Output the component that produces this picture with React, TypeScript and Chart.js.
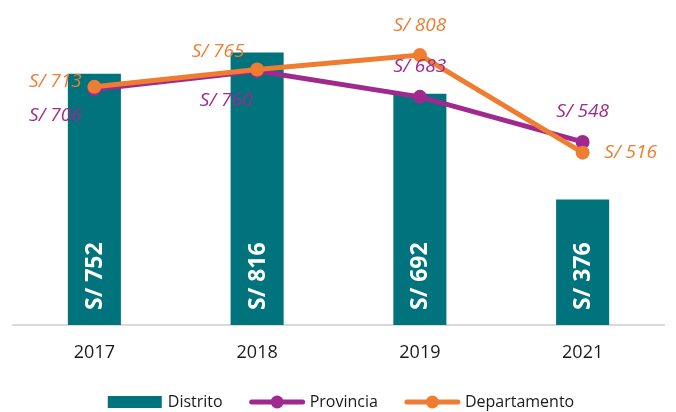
import React, { useEffect, useRef } from "react";
import { Chart, registerables } from "chart.js";

Chart.register(...registerables);

const categories = ["2017", "2018", "2019", "2021"];
const distrito = [752, 816, 692, 376];
const provincia = [706, 760, 683, 548];
const departamento = [713, 765, 808, 516];

const TEAL = "#00737D";
const PURPLE = "#A0298F";
const ORANGE = "#EE7D31";
const FONT = "'Open Sans', 'DejaVu Sans', sans-serif";
const BOLD_FONT = "'Noto Sans', 'DejaVu Sans', sans-serif";

// label offsets (style only) relative to each point
const provOffsets = [
  [-39, 26],
  [-31, 29],
  [0, -30],
  [0, -30],
];
const depOffsets = [
  [-39, -5],
  [-39, -18],
  [0, -30],
  [48, 0],
];

const fmt = (v: number) => `S/ ${v}`;

const labelPlugin = {
  id: "customLabels",
  afterDatasetsDraw(chart: any) {
    const ctx = chart.ctx;
    ctx.save();
    // bar labels
    const barMeta = chart.getDatasetMeta(0);
    const base = chart.chartArea.bottom;
    ctx.fillStyle = "#ffffff";
    ctx.font = `normal normal bold 23px ${BOLD_FONT}`;
    ctx.textAlign = "left";
    ctx.textBaseline = "middle";
    barMeta.data.forEach((el: any, i: number) => {
      ctx.save();
      ctx.translate(el.x, base - 15);
      ctx.rotate(-Math.PI / 2);
      ctx.fillText(fmt(distrito[i]), 0, 1);
      ctx.restore();
    });
    // line labels
    ctx.font = `italic 19px ${FONT}`;
    ctx.textAlign = "center";
    const drawSet = (idx: number, vals: number[], offs: number[][], color: string) => {
      const meta = chart.getDatasetMeta(idx);
      ctx.fillStyle = color;
      meta.data.forEach((el: any, i: number) => {
        ctx.fillText(fmt(vals[i]), el.x + offs[i][0], el.y + offs[i][1]);
      });
    };
    drawSet(1, provincia, provOffsets, PURPLE);
    drawSet(2, departamento, depOffsets, ORANGE);
    ctx.restore();
  },
  afterDraw(chart: any) {
    const ctx = chart.ctx;
    ctx.save();
    ctx.font = `16px ${FONT}`;
    ctx.textBaseline = "middle";
    ctx.textAlign = "left";
    const items = [
      { label: "Distrito", color: TEAL, kind: "bar" },
      { label: "Provincia", color: PURPLE, kind: "line" },
      { label: "Departamento", color: ORANGE, kind: "line" },
    ];
    const sw = 55;
    const tg = 5;
    const ig = 27;
    const widths = items.map((it) => sw + tg + ctx.measureText(it.label).width);
    const total = widths.reduce((a, b) => a + b, 0) + ig * (items.length - 1);
    let x = chart.width / 2 + 3 - total / 2;
    const y = 402;
    items.forEach((it, i) => {
      if (it.kind === "bar") {
        ctx.fillStyle = it.color;
        ctx.fillRect(x, y - 6, sw - 1, 12);
      } else {
        ctx.strokeStyle = it.color;
        ctx.lineWidth = 5;
        ctx.lineCap = "round";
        ctx.beginPath();
        ctx.moveTo(x + 2, y);
        ctx.lineTo(x + sw - 2, y);
        ctx.stroke();
        ctx.fillStyle = it.color;
        ctx.beginPath();
        ctx.arc(x + sw / 2, y, 6.5, 0, Math.PI * 2);
        ctx.fill();
      }
      ctx.fillStyle = "#1a1a1a";
      ctx.fillText(it.label, x + sw + tg, y);
      x += widths[i] + ig;
    });
    ctx.restore();
  },
};

export default function App() {
  const ref = useRef<HTMLCanvasElement | null>(null);
  useEffect(() => {
    document.body.style.margin = "0";
    if (!ref.current) return;
    const chart = new Chart(ref.current, {
      type: "bar",
      data: {
        labels: categories,
        datasets: [
          {
            type: "bar",
            label: "Distrito",
            data: distrito,
            backgroundColor: TEAL,
            categoryPercentage: 1,
            barPercentage: 0.326,
            order: 3,
          },
          {
            type: "line",
            label: "Provincia",
            data: provincia,
            borderColor: PURPLE,
            backgroundColor: PURPLE,
            borderWidth: 5,
            pointRadius: 7,
            pointBorderWidth: 0,
            pointBackgroundColor: PURPLE,
            order: 2,
          },
          {
            type: "line",
            label: "Departamento",
            data: departamento,
            borderColor: ORANGE,
            backgroundColor: ORANGE,
            borderWidth: 5,
            pointRadius: 7,
            pointBorderWidth: 0,
            pointBackgroundColor: ORANGE,
            order: 1,
          },
        ] as any,
      },
      options: {
        animation: false,
        responsive: false,
        devicePixelRatio: 1,
        layout: { padding: { left: 13, right: 12, top: 10, bottom: 0 } },
        plugins: {
          legend: { display: false },
          tooltip: { enabled: false },
        },
        scales: {
          x: {
            grid: { display: false, drawTicks: false },
            border: { display: true, color: "#d9d9d9", width: 2 },
            ticks: {
              color: "#1a1a1a",
              font: { family: FONT, size: 18 },
              padding: 17,
            },
            afterFit: (scale: any) => {
              scale.height = 87;
            },
          },
          y: {
            display: false,
            min: 0,
            max: 943,
          },
        },
      } as any,
      plugins: [labelPlugin],
    });
    return () => chart.destroy();
  }, []);
  return (
    <div style={{ width: 676, height: 412 }}>
      <canvas ref={ref} width={676} height={412} />
    </div>
  );
}
